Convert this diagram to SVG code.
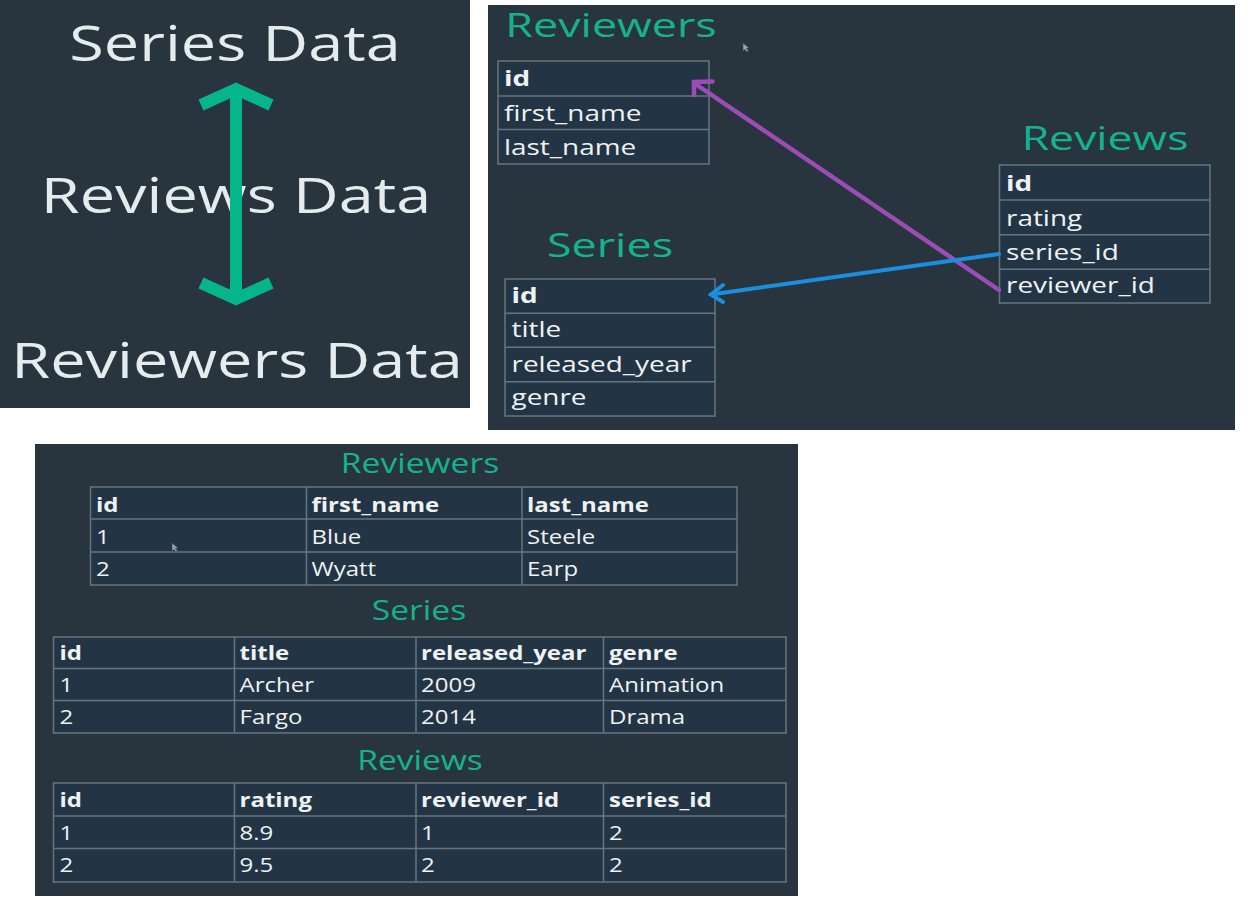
<svg xmlns="http://www.w3.org/2000/svg" width="1252" height="916" viewBox="0 0 1252 916">
<style>
.panel{fill:#28353f}
.cell{fill:#233444;stroke:#66767f;stroke-width:1.5}
.grid{stroke:#66767f;stroke-width:1.5;fill:none}
.big{font-family:"Open Sans","Noto Sans","Liberation Sans",sans-serif;font-size:50px;fill:#e6ecee;text-anchor:middle}
.t1{font-family:"Open Sans","Noto Sans","Liberation Sans",sans-serif;font-size:33px;fill:#15b38c;text-anchor:middle}
.t2{font-family:"Open Sans","Noto Sans","Liberation Sans",sans-serif;font-size:28px;fill:#15b38c;text-anchor:middle}
.f1{font-family:"Open Sans","Noto Sans","Liberation Sans",sans-serif;font-size:21px;fill:#eef2f3}
.f2{font-family:"Open Sans","Noto Sans","Liberation Sans",sans-serif;font-size:20px;fill:#eef2f3}
.b{font-weight:bold}
.cursor{fill:#9aa3aa;stroke:#3a464f;stroke-width:0.6}
</style>
<rect width="1252" height="916" fill="#ffffff"/>
<rect class="panel" x="0" y="0" width="470" height="408"/>
<rect class="panel" x="488" y="5" width="747" height="425"/>
<rect class="panel" x="35" y="444" width="763" height="452"/>

<g id="label-series-data">
<text class="big" transform="translate(235,61) scale(1.26,1)">Series Data</text>
</g>
<g id="label-reviews-data">
<text class="big" transform="translate(236,213) scale(1.26,1)">Reviews Data</text>
</g>
<g id="label-reviewers-data">
<text class="big" transform="translate(237,378) scale(1.26,1)">Reviewers Data</text>
</g>

<g id="entity-reviewers">
<text class="t1" transform="translate(611,37) scale(1.36,1)">Reviewers</text>
<rect class="cell" x="498" y="61" width="211" height="103"/>
<path class="grid" d="M498 96H709M498 129.5H709"/>
<text class="f1 b" transform="translate(504,86) scale(1.33,1)">id</text>
<text class="f1" transform="translate(504,121) scale(1.33,1)">first_name</text>
<text class="f1" transform="translate(504,155) scale(1.33,1)">last_name</text>
</g>

<g id="entity-reviews">
<text class="t1" transform="translate(1105,150) scale(1.35,1)">Reviews</text>
<rect class="cell" x="999.5" y="165" width="210.5" height="138"/>
<path class="grid" d="M999.5 200H1210M999.5 234.7H1210M999.5 269.3H1210"/>
<text class="f1 b" transform="translate(1006,191) scale(1.33,1)">id</text>
<text class="f1" transform="translate(1006,226) scale(1.33,1)">rating</text>
<text class="f1" transform="translate(1006,260) scale(1.33,1)">series_id</text>
<text class="f1" transform="translate(1006,293) scale(1.33,1)">reviewer_id</text>
</g>

<g id="entity-series">
<text class="t1" transform="translate(610,257) scale(1.36,1)">Series</text>
<rect class="cell" x="505" y="279" width="210" height="137"/>
<path class="grid" d="M505 313.3H715M505 347.3H715M505 381.7H715"/>
<text class="f1 b" transform="translate(511.5,303) scale(1.33,1)">id</text>
<text class="f1" transform="translate(511.5,337) scale(1.33,1)">title</text>
<text class="f1" transform="translate(511.5,372) scale(1.33,1)">released_year</text>
<text class="f1" transform="translate(511.5,405) scale(1.33,1)">genre</text>
</g>

<g id="table-reviewers">
<text class="t2" transform="translate(420,473) scale(1.2,1)">Reviewers</text>
<rect class="cell" x="90.5" y="487" width="646.5" height="98"/>
<path class="grid" d="M90.5 519H737M90.5 552H737M306.5 487V585M522 487V585"/>
<text class="f2 b" transform="translate(96,511.5) scale(1.2,1)">id</text>
<text class="f2 b" transform="translate(311.5,511.5) scale(1.2,1)">first_name</text>
<text class="f2 b" transform="translate(527,511.5) scale(1.2,1)">last_name</text>
<text class="f2" transform="translate(96,543.5) scale(1.2,1)">1</text>
<text class="f2" transform="translate(311.5,543.5) scale(1.2,1)">Blue</text>
<text class="f2" transform="translate(527,543.5) scale(1.2,1)">Steele</text>
<text class="f2" transform="translate(96,576) scale(1.2,1)">2</text>
<text class="f2" transform="translate(311.5,576) scale(1.2,1)">Wyatt</text>
<text class="f2" transform="translate(527,576) scale(1.2,1)">Earp</text>
</g>

<g id="table-series">
<text class="t2" transform="translate(419,620) scale(1.2,1)">Series</text>
<rect class="cell" x="53.5" y="637" width="732.5" height="96"/>
<path class="grid" d="M53.5 668.5H786M53.5 700.5H786M234.5 637V733M416 637V733M603.5 637V733"/>
<text class="f2 b" transform="translate(59.5,660) scale(1.2,1)">id</text>
<text class="f2 b" transform="translate(239.5,660) scale(1.2,1)">title</text>
<text class="f2 b" transform="translate(421,660) scale(1.2,1)">released_year</text>
<text class="f2 b" transform="translate(609,660) scale(1.2,1)">genre</text>
<text class="f2" transform="translate(59.5,692) scale(1.2,1)">1</text>
<text class="f2" transform="translate(239.5,692) scale(1.2,1)">Archer</text>
<text class="f2" transform="translate(421,692) scale(1.2,1)">2009</text>
<text class="f2" transform="translate(609,692) scale(1.2,1)">Animation</text>
<text class="f2" transform="translate(59.5,724) scale(1.2,1)">2</text>
<text class="f2" transform="translate(239.5,724) scale(1.2,1)">Fargo</text>
<text class="f2" transform="translate(421,724) scale(1.2,1)">2014</text>
<text class="f2" transform="translate(609,724) scale(1.2,1)">Drama</text>
</g>

<g id="table-reviews">
<text class="t2" transform="translate(420,770) scale(1.2,1)">Reviews</text>
<rect class="cell" x="53.5" y="783" width="732.5" height="99"/>
<path class="grid" d="M53.5 816H786M53.5 848.5H786M234.5 783V882M416 783V882M603.5 783V882"/>
<text class="f2 b" transform="translate(59.5,806.5) scale(1.2,1)">id</text>
<text class="f2 b" transform="translate(239.5,806.5) scale(1.2,1)">rating</text>
<text class="f2 b" transform="translate(421,806.5) scale(1.2,1)">reviewer_id</text>
<text class="f2 b" transform="translate(609,806.5) scale(1.2,1)">series_id</text>
<text class="f2" transform="translate(59.5,839.5) scale(1.2,1)">1</text>
<text class="f2" transform="translate(239.5,839.5) scale(1.2,1)">8.9</text>
<text class="f2" transform="translate(421,839.5) scale(1.2,1)">1</text>
<text class="f2" transform="translate(609,839.5) scale(1.2,1)">2</text>
<text class="f2" transform="translate(59.5,872) scale(1.2,1)">2</text>
<text class="f2" transform="translate(239.5,872) scale(1.2,1)">9.5</text>
<text class="f2" transform="translate(421,872) scale(1.2,1)">2</text>
<text class="f2" transform="translate(609,872) scale(1.2,1)">2</text>
</g>

<g id="connectors" fill="none">
<g stroke="#05b68b" stroke-linejoin="miter" stroke-linecap="butt">
<path d="M236 92V296" stroke-width="12"/>
<polyline points="201,105 236,89 271,105" stroke-width="12"/>
<polyline points="201,283 236,299 271,283" stroke-width="12"/>
</g>
<g stroke="#9b4db5" stroke-width="4.5" stroke-linecap="round" stroke-linejoin="miter">
<path d="M999 290L694 83"/>
<polyline points="712.5,81.5 694,82 694,95"/>
</g>
<g stroke="#1b8fdf" stroke-width="4" stroke-linecap="round" stroke-linejoin="miter">
<path d="M999 254L711 294.5"/>
<polyline points="723,285 711,294.5 723,302"/>
</g>
</g>

<path class="cursor" d="M743 43L743 51L745 49.5L747 52L748.5 51L746.5 48.5L749 48Z"/>
<path class="cursor" d="M172 543L172 551L174 549.5L176 552L177.5 551L175.5 548.5L178 548Z"/>
</svg>
